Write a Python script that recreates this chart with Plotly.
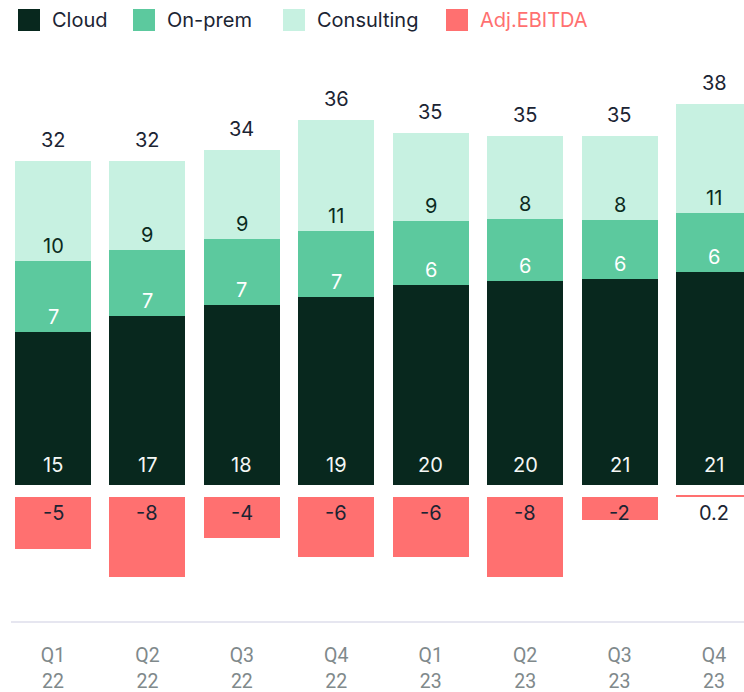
import plotly.graph_objects as go

# ---- data ----
quarters = ["Q1<br>22", "Q2<br>22", "Q3<br>22", "Q4<br>22", "Q1<br>23", "Q2<br>23", "Q3<br>23", "Q4<br>23"]
cloud = [15.15, 16.7, 17.8, 18.6, 19.8, 20.2, 20.4, 21.1]
onprem = [7.0, 6.6, 6.6, 6.5, 6.3, 6.1, 5.85, 5.85]
consulting = [9.9, 8.8, 8.8, 11.0, 8.8, 8.3, 8.3, 10.8]
ebitda = [-5.1, -7.9, -4.0, -5.9, -5.9, -7.9, -2.3, 0.2]

cloud_lbl = ["15", "17", "18", "19", "20", "20", "21", "21"]
onprem_lbl = ["7", "7", "7", "7", "6", "6", "6", "6"]
consulting_lbl = ["10", "9", "9", "11", "9", "8", "8", "11"]
total_lbl = ["32", "32", "34", "36", "35", "35", "35", "38"]
ebitda_lbl = ["-5", "-8", "-4", "-6", "-6", "-8", "-2", "0.2"]

# ---- styles ----
C_CLOUD = "#08281e"
C_ONPREM = "#5cc99e"
C_CONS = "#c7f1e1"
C_EBITDA = "#ff7070"
C_TEXT = "#1b2433"
FONT = "Inter, Roboto, sans-serif"
GAP = 1.2

W, H = 744, 692
ML, MR, MT, MB = 11, 0, 60, 71
PW, PH = W - ML - MR, H - MT - MB


def px(x):
    return (x - ML) / PW


def py(y):
    return (H - MB - y) / PH


fig = go.Figure()
fig.add_trace(go.Bar(x=quarters, y=cloud, name="Cloud", marker=dict(color=C_CLOUD, line_width=0), showlegend=False))
fig.add_trace(go.Bar(x=quarters, y=onprem, name="On-prem", marker=dict(color=C_ONPREM, line_width=0), showlegend=False))
fig.add_trace(go.Bar(x=quarters, y=consulting, name="Consulting", marker=dict(color=C_CONS, line_width=0), showlegend=False))
fig.add_trace(go.Bar(x=quarters, y=ebitda, base=[-GAP] * len(quarters), name="Adj.EBITDA",
                     marker=dict(color=C_EBITDA, line_width=0), showlegend=False))

annotations = []
for i, q in enumerate(quarters):
    c, o, s = cloud[i], onprem[i], consulting[i]
    annotations.append(dict(x=q, y=0, yshift=20.5, text=cloud_lbl[i], font=dict(color="#f4f7f5", size=20, family=FONT)))
    annotations.append(dict(x=q, y=c, yshift=15, text=onprem_lbl[i], font=dict(color="#ffffff", size=20, family=FONT)))
    annotations.append(dict(x=q, y=c + o, yshift=15, text=consulting_lbl[i], font=dict(color="#0b2a20", size=20, family=FONT)))
    annotations.append(dict(x=q, y=c + o + s, yshift=21, text=total_lbl[i], font=dict(color=C_TEXT, size=20, family=FONT)))
    annotations.append(dict(x=q, y=-GAP, yshift=-16, text=ebitda_lbl[i], font=dict(color=C_TEXT, size=20, family=FONT)))
for a in annotations:
    a.update(showarrow=False, xanchor="center", yanchor="middle", xref="x", yref="y")

# legend (manual, large square swatches)
legend_items = [("Cloud", C_CLOUD, 18, C_TEXT), ("On-prem", C_ONPREM, 133, C_TEXT),
                ("Consulting", C_CONS, 283, C_TEXT), ("Adj.EBITDA", C_EBITDA, 446, C_EBITDA)]
shapes = []
for name, col, x0, tcol in legend_items:
    shapes.append(dict(type="rect", xref="paper", yref="paper", x0=px(x0), x1=px(x0 + 22),
                       y0=py(31), y1=py(9), fillcolor=col, line_width=0))
    annotations.append(dict(xref="paper", yref="paper", x=px(x0 + 32), y=py(20), text=name, showarrow=False,
                            xanchor="left", yanchor="middle", font=dict(color=tcol, size=20, family=FONT)))

y_lo = -(621 - 485) / 10.1
y_hi = (485 - 60) / 10.1

fig.update_layout(
    width=W, height=H,
    margin=dict(l=ML, r=MR, t=MT, b=MB, autoexpand=False),
    barmode="stack", bargap=0.195,
    plot_bgcolor="white", paper_bgcolor="white",
    showlegend=False,
    annotations=annotations, shapes=shapes,
    xaxis=dict(type="category", range=[-(53 - 11) / 94.43, 7 + (744 - 714) / 94.43], automargin=False,
               showline=True, linecolor="#e6e6f0", linewidth=2, showgrid=False, zeroline=False,
               ticks="outside", ticklen=16, tickcolor="rgba(0,0,0,0)",
               tickfont=dict(family="Roboto, sans-serif", size=19.5, color="#7f898b")),
    yaxis=dict(range=[y_lo, y_hi], visible=False, showgrid=False, zeroline=False, automargin=False),
)

fig.write_html("out.html", config={"displayModeBar": False},
               post_script="document.body.style.margin='0';document.body.style.overflow='hidden';")
